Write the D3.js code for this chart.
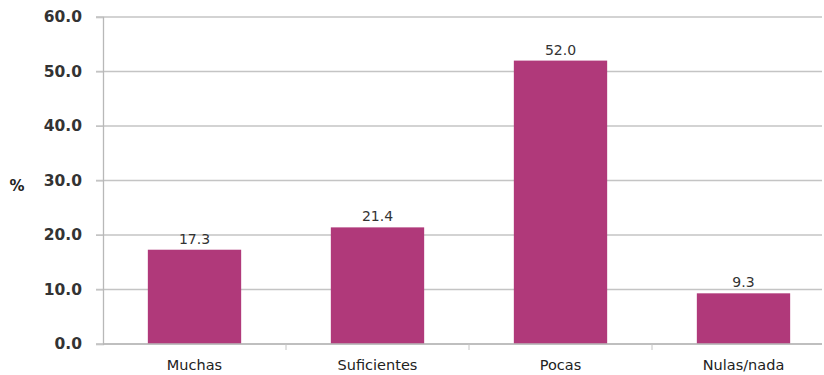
<!DOCTYPE html>
<html><head><meta charset="utf-8">
<script src="https://cdn.jsdelivr.net/npm/d3@7"></script>
<style>body{margin:0;background:#fff;}svg{display:block;}</style>
</head><body>
<svg id="c" width="824" height="375"></svg>
<script>
const categories = ["Muchas", "Suficientes", "Pocas", "Nulas/nada"];
const values = [17.3, 21.4, 52.0, 9.3];
const yTicks = [0, 10, 20, 30, 40, 50, 60];

const svg = d3.select("#c");
const x0 = 103, x1 = 835, yTop = 17, yBot = 344;
const x = d3.scaleBand().domain(categories).range([x0, x1]).paddingInner(0.49).paddingOuter(0.245);
const y = d3.scaleLinear().domain([0, 60]).range([yBot, yTop]);
const font = "'DejaVu Sans', sans-serif";

// gridlines
svg.append("g").selectAll("line").data(yTicks).join("line")
  .attr("x1", x0 - 7).attr("x2", 822)
  .attr("y1", d => y(d)).attr("y2", d => y(d))
  .attr("stroke", "#c4c4c4").attr("stroke-width", 1.3);

// y axis
const yAxis = d3.axisLeft(y).tickValues(yTicks).tickFormat(d3.format(".1f")).tickSize(7).tickPadding(14);
const gy = svg.append("g").attr("transform", `translate(${x0},0)`).call(yAxis);
gy.select(".domain").attr("stroke", "#b8b8b8").attr("stroke-width", 1.3);
gy.selectAll(".tick line").attr("stroke", "#c4c4c4");
gy.selectAll("text").attr("font-family", font).attr("font-size", 15.5).attr("fill", "#333").attr("font-weight", "bold");

// bars
svg.append("g").selectAll("rect").data(values).join("rect")
  .attr("x", (d, i) => x(categories[i])).attr("width", x.bandwidth())
  .attr("y", d => y(d)).attr("height", d => yBot - y(d))
  .attr("fill", "#b0397a");

// x axis
const gx = svg.append("g").attr("transform", `translate(0,${yBot})`);
gx.append("line").attr("x1", x0).attr("x2", 822).attr("stroke", "#b8b8b8").attr("stroke-width", 1.3);
gx.selectAll("line.t").data(categories.slice(1)).join("line").attr("class", "t")
  .attr("x1", d => x(d) - x.step() * 0.245).attr("x2", d => x(d) - x.step() * 0.245)
  .attr("y1", 0).attr("y2", 6).attr("stroke", "#c4c4c4");
gx.selectAll("text").data(categories).join("text")
  .attr("x", d => x(d) + x.bandwidth() / 2).attr("y", 26)
  .attr("text-anchor", "middle").attr("font-family", font).attr("font-size", 14.5).attr("fill", "#222")
  .text(d => d);

// value labels
svg.append("g").selectAll("text").data(values).join("text")
  .attr("x", (d, i) => x(categories[i]) + x.bandwidth() / 2).attr("y", d => y(d) - 6)
  .attr("text-anchor", "middle").attr("font-family", font).attr("font-size", 14).attr("fill", "#333")
  .text(d => d.toFixed(1));

// y label
svg.append("text").attr("x", 17).attr("y", 191).attr("text-anchor", "middle")
  .attr("font-family", font).attr("font-size", 15).attr("font-weight", "bold").attr("fill", "#222").text("%");
</script>
</body></html>
